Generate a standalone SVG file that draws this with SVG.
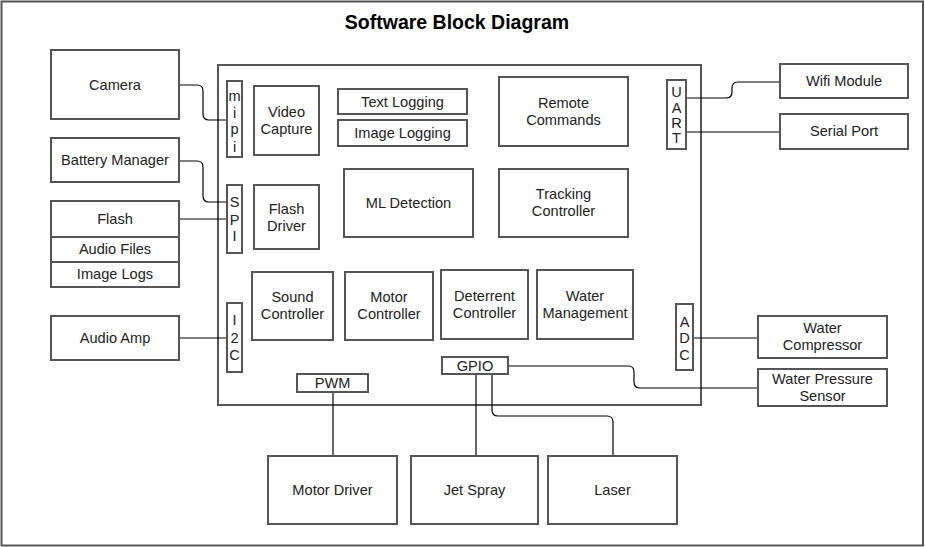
<svg xmlns="http://www.w3.org/2000/svg" width="925" height="547" viewBox="0 0 925 547">
<style>
.b{fill:#fff;stroke:#555;stroke-width:2}
.t{font-family:"Liberation Sans",Arial,sans-serif;font-size:14.6px;fill:#222;text-anchor:middle}
.c{fill:none;stroke:#000;stroke-width:1.2}
</style>
<rect x="0" y="0" width="925" height="547" fill="#fff"/>
<rect x="1.5" y="1.5" width="921.5" height="544" fill="none" stroke="#555" stroke-width="2"/>
<text x="457" y="29" style="font-family:'Liberation Sans',Arial,sans-serif;font-size:19.5px;font-weight:bold;text-anchor:middle" fill="#000">Software Block Diagram</text>
<g id="main"><rect class="b" x="218" y="65" width="483" height="340"/></g>
<g id="connectors">
<path class="c" d="M179,85 H197 Q203,85 203,91 V114 Q203,120 209,120 H227"/>
<path class="c" d="M179,161 H197 Q203,161 203,167 V196 Q203,202 209,202 H227"/>
<path class="c" d="M179,219 H227"/>
<path class="c" d="M179,338 H227"/>
<path class="c" d="M686,98 H726 Q732,98 732,92 V88 Q732,82 738,82 H780"/>
<path class="c" d="M686,132 H780"/>
<path class="c" d="M693,338 H758"/>
<path class="c" d="M508,366 H628 Q634,366 634,372 V382 Q634,388 640,388 H758"/>
<path class="c" d="M333,392 V456"/>
<path class="c" d="M476,374 V456"/>
<path class="c" d="M492,374 V410 Q492,416 498,416 H607 Q613,416 613,422 V456"/>
</g>
<g id="camera"><rect class="b" x="51" y="50" width="128" height="69"/><text class="t" x="115" y="90">Camera</text></g>
<g id="battery"><rect class="b" x="51" y="138" width="128" height="44"/><text class="t" x="115" y="165">Battery Manager</text></g>
<g id="flash"><rect class="b" x="51" y="201" width="128" height="36"/><text class="t" x="115" y="224">Flash</text></g>
<g id="audiofiles"><rect class="b" x="51" y="237" width="128" height="25"/><text class="t" x="115" y="254">Audio Files</text></g>
<g id="imagelogs"><rect class="b" x="51" y="262" width="128" height="25"/><text class="t" x="115" y="279">Image Logs</text></g>
<g id="audioamp"><rect class="b" x="51" y="316" width="128" height="44"/><text class="t" x="115" y="343">Audio Amp</text></g>
<g id="mipi"><rect class="b" x="227" y="81" width="15" height="76"/><text class="t" x="234.5" y="101">m</text><text class="t" x="234.5" y="118">i</text><text class="t" x="234.5" y="134">p</text><text class="t" x="234.5" y="152">i</text></g>
<g id="spi"><rect class="b" x="227" y="185" width="15" height="68"/><text class="t" x="234.5" y="207">S</text><text class="t" x="234.5" y="225">P</text><text class="t" x="234.5" y="241">I</text></g>
<g id="i2c"><rect class="b" x="227" y="303" width="15" height="69"/><text class="t" x="234.5" y="325">I</text><text class="t" x="234.5" y="343">2</text><text class="t" x="234.5" y="360">C</text></g>
<g id="videocapture"><rect class="b" x="254" y="86" width="65" height="69"/><text class="t" x="286.5" y="117">Video</text><text class="t" x="286.5" y="134">Capture</text></g>
<g id="flashdriver"><rect class="b" x="254" y="185" width="65" height="64"/><text class="t" x="286.5" y="214">Flash</text><text class="t" x="286.5" y="231">Driver</text></g>
<g id="textlogging"><rect class="b" x="338" y="89" width="129" height="25"/><text class="t" x="402.5" y="107">Text Logging</text></g>
<g id="imagelogging"><rect class="b" x="338" y="120" width="129" height="26"/><text class="t" x="402.5" y="138">Image Logging</text></g>
<g id="remote"><rect class="b" x="499" y="77" width="129" height="69"/><text class="t" x="563.5" y="108">Remote</text><text class="t" x="563.5" y="125">Commands</text></g>
<g id="ml"><rect class="b" x="344" y="169" width="129" height="68"/><text class="t" x="408.5" y="208">ML Detection</text></g>
<g id="tracking"><rect class="b" x="499" y="169" width="129" height="68"/><text class="t" x="563.5" y="199">Tracking</text><text class="t" x="563.5" y="216">Controller</text></g>
<g id="uart"><rect class="b" x="667" y="80" width="19" height="69"/><text class="t" x="676.5" y="97">U</text><text class="t" x="676.5" y="113">A</text><text class="t" x="676.5" y="128">R</text><text class="t" x="676.5" y="143">T</text></g>
<g id="sound"><rect class="b" x="252" y="272" width="81" height="68"/><text class="t" x="292.5" y="302">Sound</text><text class="t" x="292.5" y="319">Controller</text></g>
<g id="motorctrl"><rect class="b" x="345" y="272" width="88" height="68"/><text class="t" x="389" y="302">Motor</text><text class="t" x="389" y="319">Controller</text></g>
<g id="deterrent"><rect class="b" x="441" y="270" width="87" height="69"/><text class="t" x="484.5" y="301">Deterrent</text><text class="t" x="484.5" y="318">Controller</text></g>
<g id="watermgmt"><rect class="b" x="537" y="270" width="96" height="69"/><text class="t" x="585" y="301">Water</text><text class="t" x="585" y="318">Management</text></g>
<g id="adc"><rect class="b" x="676" y="304" width="17" height="66"/><text class="t" x="684.5" y="327">A</text><text class="t" x="684.5" y="343">D</text><text class="t" x="684.5" y="360">C</text></g>
<g id="pwm"><rect class="b" x="297" y="374" width="71" height="18"/><text class="t" x="332.5" y="388">PWM</text></g>
<g id="gpio"><rect class="b" x="442" y="357" width="66" height="17"/><text class="t" x="475" y="371">GPIO</text></g>
<g id="wifi"><rect class="b" x="780" y="64" width="128" height="34"/><text class="t" x="844" y="86">Wifi Module</text></g>
<g id="serial"><rect class="b" x="780" y="114" width="128" height="35"/><text class="t" x="844" y="136">Serial Port</text></g>
<g id="compressor"><rect class="b" x="758" y="316" width="129" height="42"/><text class="t" x="822.5" y="333">Water</text><text class="t" x="822.5" y="350">Compressor</text></g>
<g id="pressure"><rect class="b" x="758" y="369" width="129" height="37"/><text class="t" x="822.5" y="384">Water Pressure</text><text class="t" x="822.5" y="401">Sensor</text></g>
<g id="motordriver"><rect class="b" x="268" y="456" width="129" height="68"/><text class="t" x="332.5" y="495">Motor Driver</text></g>
<g id="jetspray"><rect class="b" x="411" y="456" width="127" height="68"/><text class="t" x="474.5" y="495">Jet Spray</text></g>
<g id="laser"><rect class="b" x="548" y="456" width="129" height="68"/><text class="t" x="612.5" y="495">Laser</text></g>
</svg>
